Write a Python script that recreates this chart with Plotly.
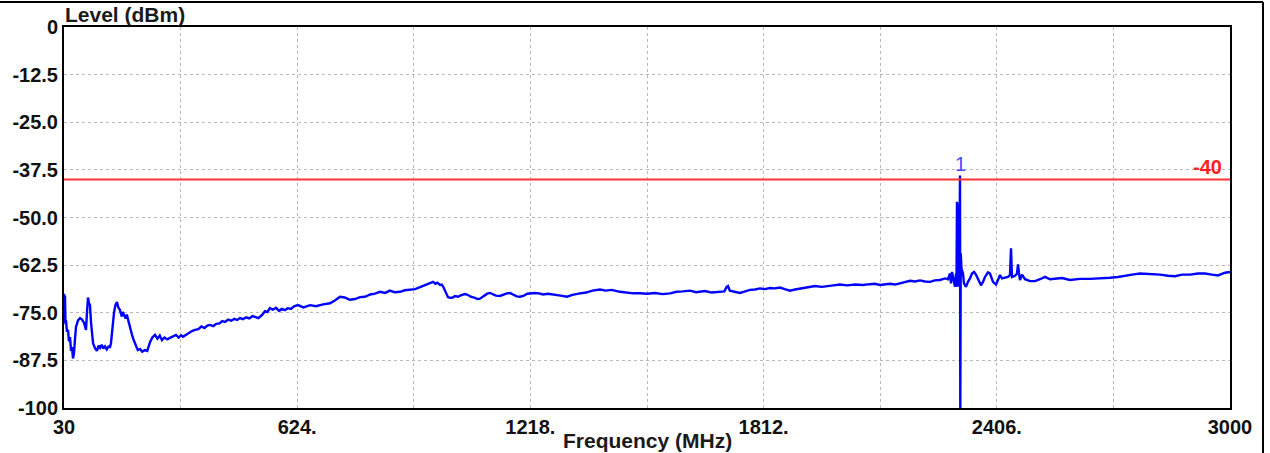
import plotly.graph_objects as go

# Spectrum sweep, 30 MHz .. 3 GHz
freq_mhz = [
    30.0, 31.3, 32.5, 33.8, 35.1, 37.6, 40.2, 42.7, 45.3, 48.0, 50.4, 52.9, 55.5, 58.0, 60.6,
    65.7, 70.8, 75.8, 80.9, 83.5, 86.0, 88.5, 91.1, 93.7, 96.2, 98.8, 101.3, 104.0, 109.0,
    114.0, 118.0, 121.7, 126.0, 130.0, 134.4, 139.0, 143.0, 147.2, 149.7, 153.0, 157.4,
    161.0, 165.0, 168.0, 172.6, 177.0, 180.0, 182.8, 187.0, 190.0, 193.0, 198.0, 203.2,
    208.0, 213.4, 218.0, 223.6, 229.0, 236.3, 242.0, 249.1, 255.0, 261.8, 268.0, 274.0,
    279.6, 286.0, 293.0, 300.0, 308.0, 315.3, 322.0, 328.0, 333.1, 340.0, 348.0, 356.0,
    363.7, 372.0, 380.0, 388.0, 395.0, 401.9, 410.0, 418.0, 426.0, 433.0, 440.1, 448.0,
    456.0, 464.0, 471.0, 478.3, 486.0, 494.0, 502.0, 510.0, 516.5, 525.0, 534.3, 542.0,
    548.0, 554.7, 562.0, 570.0, 578.0, 585.0, 592.9, 600.0, 608.0, 616.0, 626.0, 640.0,
    656.6, 672.0, 690.0, 707.6, 720.0, 733.0, 745.0, 758.0, 771.2, 784.0, 796.7, 810.0,
    822.0, 834.9, 848.0, 860.0, 872.0, 885.9, 898.0, 911.0, 924.1, 937.0, 949.5, 958.0,
    964.0, 969.9, 976.0, 981.0, 987.7, 992.0, 996.0, 1003.0, 1008.0, 1013.2, 1020.0,
    1026.0, 1033.6, 1042.0, 1051.4, 1058.0, 1066.0, 1076.9, 1083.0, 1089.6, 1100.0,
    1108.0, 1115.1, 1122.0, 1130.0, 1140.6, 1150.0, 1158.0, 1166.0, 1175.0, 1183.0,
    1191.5, 1200.0, 1210.0, 1220.0, 1229.7, 1240.0, 1250.0, 1262.8, 1280.0, 1295.0,
    1311.2, 1325.0, 1344.4, 1360.0, 1376.0, 1395.3, 1410.0, 1425.0, 1446.2, 1465.0,
    1480.0, 1497.2, 1515.0, 1535.4, 1555.0, 1573.6, 1590.0, 1606.0, 1624.5, 1640.0,
    1662.7, 1680.0, 1700.9, 1712.0, 1718.0, 1721.3, 1726.0, 1740.0, 1751.9, 1765.0,
    1777.4, 1790.0, 1802.9, 1815.0, 1828.3, 1840.0, 1853.8, 1866.0, 1879.3, 1892.0,
    1904.7, 1920.0, 1942.9, 1960.0, 1976.1, 1990.0, 2006.6, 2025.0, 2044.8, 2065.0,
    2083.0, 2095.0, 2108.5, 2120.0, 2134.0, 2147.0, 2159.5, 2172.0, 2184.9, 2198.0,
    2210.4, 2223.0, 2235.9, 2248.0, 2261.3, 2274.1, 2281.7, 2286.8, 2289.3, 2291.9,
    2294.5, 2297.0, 2299.5, 2302.1, 2303.3, 2304.6, 2306.4, 2307.9, 2309.2, 2310.5,
    2312.3, 2313.0, 2314.2, 2316.0, 2319.9, 2322.4, 2327.5, 2332.6, 2337.7, 2342.8,
    2347.9, 2353.0, 2358.1, 2365.7, 2370.8, 2375.9, 2383.6, 2388.7, 2396.3, 2404.0,
    2409.1, 2414.2, 2419.3, 2426.9, 2434.5, 2439.6, 2442.2, 2444.7, 2452.4, 2457.5,
    2460.0, 2462.6, 2465.1, 2470.2, 2477.9, 2490.6, 2503.3, 2516.1, 2528.8, 2541.5,
    2554.3, 2572.1, 2592.5, 2618.0, 2643.4, 2668.9, 2694.4, 2714.8, 2732.6, 2750.4,
    2770.8, 2796.3, 2821.7, 2842.1, 2859.9, 2877.8, 2898.2, 2918.5, 2936.4, 2954.2,
    2969.5, 2987.3, 3000.0,
]

level_dbm = [
    -70.0, -77.5, -70.5, -78.0, -76.9, -80.0, -79.5, -82.5, -81.4, -85.0, -84.0, -87.0, -85.5, -82.0, -78.7,
    -77.0, -76.4, -76.8, -77.6, -78.5, -79.5, -75.0, -71.0, -72.5, -73.0, -77.5, -81.3, -83.0, -84.3,
    -85.0, -83.6, -84.2, -83.4, -84.4, -83.8, -84.6, -83.9, -84.0, -83.0, -79.0, -75.0,
    -73.0, -72.2, -73.5, -74.3, -76.0, -74.8, -75.6, -76.5, -75.5, -76.9, -78.5, -80.8,
    -82.3, -83.5, -84.8, -84.5, -85.2, -84.8, -85.0, -82.7, -81.5, -80.8, -81.8, -81.0,
    -82.2, -81.5, -82.0, -81.6, -81.2, -80.8, -81.5, -80.9, -81.3, -80.8, -80.2, -79.8,
    -79.5, -79.3, -78.6, -79.0, -78.4, -78.2, -78.5, -77.9, -77.8, -77.2, -77.4, -76.8,
    -77.1, -76.6, -76.9, -76.4, -76.7, -76.2, -76.5, -75.9, -76.1, -76.4, -75.6, -74.6,
    -74.8, -73.8, -74.2, -73.7, -74.5, -74.0, -74.3, -73.8, -74.0, -73.3, -73.0, -73.6,
    -73.0, -73.3, -72.8, -72.5, -71.8, -70.8, -71.0, -71.6, -71.4, -70.9, -70.8, -70.2,
    -70.0, -69.5, -69.8, -69.2, -69.6, -69.5, -69.1, -69.0, -68.8, -68.3, -67.7, -67.4,
    -67.0, -66.9, -67.4, -67.1, -67.7, -67.6, -68.2, -69.8, -70.9, -71.1, -71.0,
    -70.6, -70.8, -70.4, -70.1, -70.3, -70.8, -71.1, -71.4, -71.3, -70.6,
    -70.0, -69.8, -70.1, -70.5, -70.6, -70.2, -69.9, -69.8, -70.2, -70.7,
    -70.8, -70.6, -70.0, -69.8, -69.8, -69.9, -70.2, -70.0, -70.2, -70.5,
    -70.8, -70.3, -69.9, -69.7, -69.2, -68.9, -69.2, -69.0, -69.5, -69.8,
    -69.9, -69.9, -70.0, -69.8, -70.1, -69.9, -69.5, -69.4, -69.2, -69.6,
    -69.3, -69.7, -69.5, -69.4, -68.2, -68.0, -69.2, -69.6, -69.8, -69.4,
    -69.0, -68.9, -68.6, -68.8, -68.5, -68.6, -68.4, -68.8, -69.2, -68.9,
    -68.7, -68.4, -68.0, -68.2, -67.9, -67.8, -67.6, -67.8, -67.6, -67.7,
    -67.5, -67.4, -67.7, -67.5, -67.4, -67.6, -67.3, -67.0, -66.6, -66.8,
    -66.5, -66.8, -66.9, -66.5, -66.4, -66.0, -66.2, -64.7, -67.3, -64.3,
    -66.0, -66.9, -68.2, -64.7, -68.2, -45.9, -68.2, -46.3, -59.0, -64.3,
    -39.0, -101.0, -59.4, -63.4, -64.7, -67.3, -68.2, -66.9, -66.0, -64.7,
    -64.3, -65.0, -66.0, -67.8, -66.9, -65.6, -64.4, -64.7, -66.9, -67.6,
    -66.4, -65.1, -66.0, -65.8, -65.6, -65.1, -58.1, -65.6, -65.3, -64.7,
    -62.3, -64.7, -66.4, -65.0, -66.2, -66.7, -66.7, -66.2, -65.6, -66.2,
    -66.1, -65.9, -66.4, -66.1, -66.1, -66.0, -65.8, -65.6, -65.4, -65.0,
    -64.7, -64.8, -65.0, -65.3, -65.4, -65.0, -65.0, -64.7, -64.7, -65.0,
    -65.2, -64.5, -64.3,
]

# Limit line and marker
LIMIT_DBM = -40
MARKER_LABEL = "1"
MARKER_FREQ = 2312.3
MARKER_LEVEL = -39.0

# Axis ticks: grid every 297 MHz, labels every second line
x_grid = [30, 327, 624, 921, 1218, 1515, 1812, 2109, 2406, 2703, 3000]
x_labels = ["30", "", "624.", "", "1218.", "", "1812.", "", "2406.", "", "3000"]
y_grid = [0, -12.5, -25.0, -37.5, -50.0, -62.5, -75.0, -87.5, -100]
y_labels = ["0", "-12.5", "-25.0", "-37.5", "-50.0", "-62.5", "-75.0", "-87.5", "-100"]

FONT = "Liberation Sans, Arial, sans-serif"
tick_font = dict(family=FONT, size=20, color="#111111", weight="bold")

fig = go.Figure()
fig.add_trace(go.Scatter(
    x=freq_mhz, y=level_dbm, mode="lines",
    line=dict(color="#0000ff", width=2.4),
    showlegend=False, hoverinfo="x+y",
))

# limit line
fig.add_shape(type="line", xref="x", yref="y", x0=x_grid[0], x1=x_grid[-1],
              y0=LIMIT_DBM, y1=LIMIT_DBM, line=dict(color="#ff3333", width=2))
fig.add_annotation(x=x_grid[-1], y=LIMIT_DBM, xref="x", yref="y", text=str(LIMIT_DBM),
                   showarrow=False, xanchor="right", yanchor="bottom", xshift=-6, yshift=-1,
                   font=dict(family=FONT, size=20, color="#ff2020", weight="bold"))

# peak marker
fig.add_annotation(x=MARKER_FREQ, y=MARKER_LEVEL, xref="x", yref="y", text=MARKER_LABEL,
                   showarrow=False, xanchor="center", yanchor="bottom", yshift=-1,
                   font=dict(family=FONT, size=20, color="#4a4aff"))

# axis titles
fig.add_annotation(x=0, y=1.0315, xref="paper", yref="paper", text="Level (dBm)",
                   showarrow=False, xanchor="left", yanchor="middle", xshift=-1,
                   font=dict(family=FONT, size=21, color="#1a1a1a", weight="bold"))
fig.add_annotation(x=0.5, y=-0.084, xref="paper", yref="paper", text="Frequency (MHz)",
                   showarrow=False, xanchor="center", yanchor="middle",
                   font=dict(family=FONT, size=21, color="#1a1a1a", weight="bold"))

# outer frame (top and right edges)
fig.add_shape(type="line", xref="paper", yref="paper", x0=-0.06, x1=1.0283,
              y0=1.0656, y1=1.0656, line=dict(color="black", width=2))
fig.add_shape(type="line", xref="paper", yref="paper", x0=1.0283, x1=1.0283,
              y0=1.0656, y1=-0.13, line=dict(color="black", width=2))

axis_common = dict(
    showgrid=True, gridcolor="#b8b8b8", gridwidth=1, griddash="dot",
    showline=True, linecolor="black", linewidth=2, mirror=True,
    ticks="", zeroline=False, tickfont=tick_font,
)

fig.update_layout(
    width=1270, height=453,
    margin=dict(l=64, r=40, t=27, b=45, pad=0),
    paper_bgcolor="white", plot_bgcolor="white",
    xaxis=dict(range=[x_grid[0], x_grid[-1]], tickmode="array",
               tickvals=x_grid, ticktext=x_labels, **axis_common),
    yaxis=dict(range=[-100, 0], tickmode="array",
               tickvals=y_grid, ticktext=y_labels, **axis_common),
)

fig.write_html("out.html")
